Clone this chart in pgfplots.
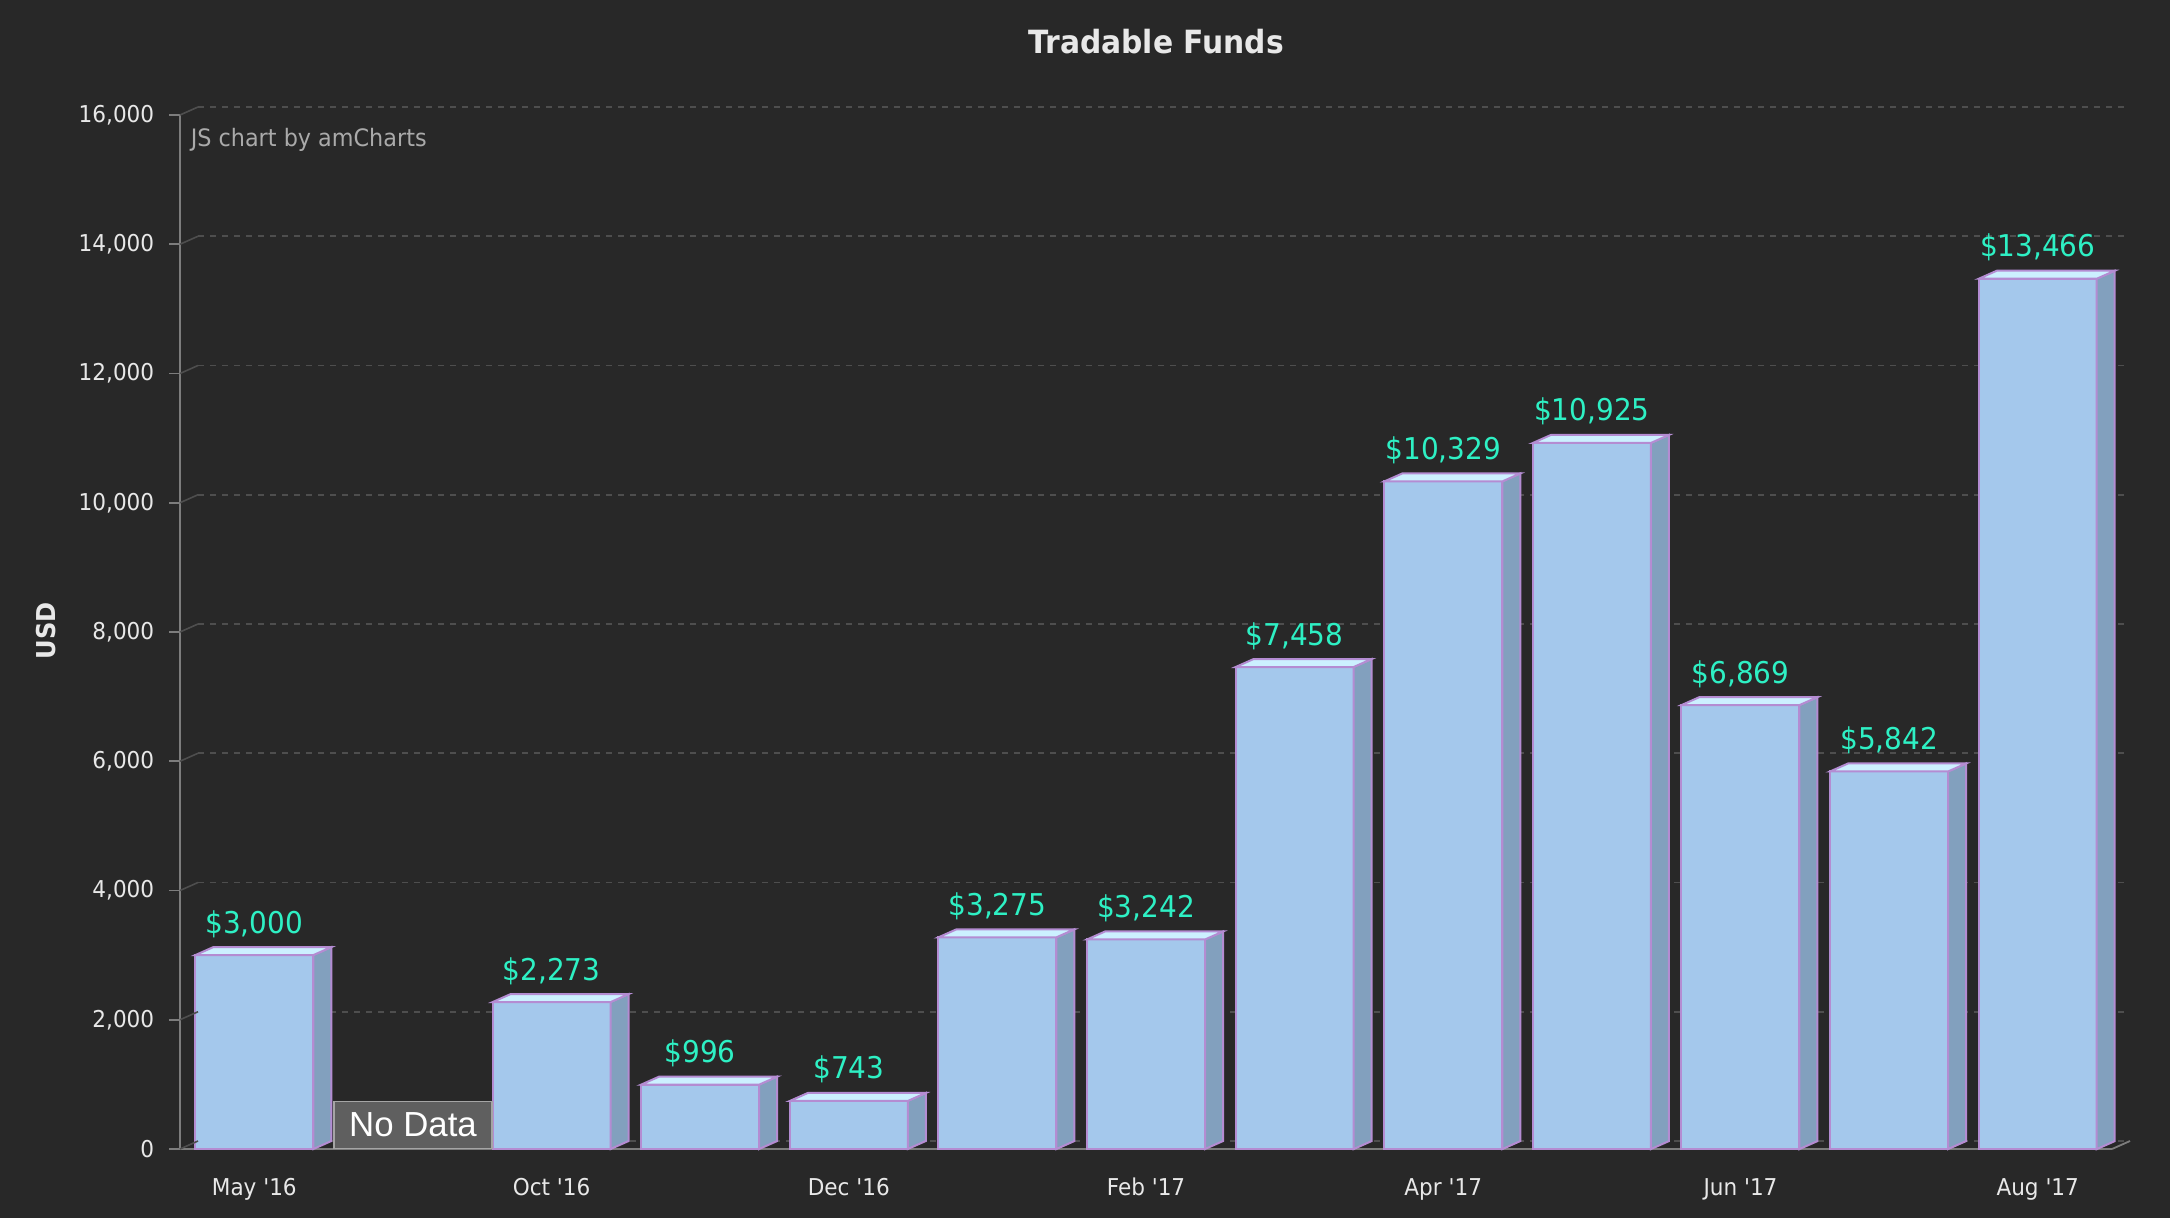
\documentclass[border=0pt]{standalone}
\usepackage{fontspec}
\setmainfont{DejaVu Sans}[FakeStretch=0.93,Ligatures=TeXOff]
\newfontfamily\ndfont{Liberation Sans}
\usepackage{pgfplots}
\usepackage{pgfplotstable}
\pgfplotsset{compat=1.18}

\definecolor{bg}{RGB}{40,40,40}
\definecolor{barfront}{RGB}{164,200,236}
\definecolor{barside}{RGB}{130,160,190}
\definecolor{bartop}{RGB}{204,240,255}
\definecolor{barline}{RGB}{180,140,210}
\definecolor{labelgreen}{RGB}{46,240,196}
\definecolor{ticktext}{RGB}{232,232,232}
\definecolor{axisgray}{RGB}{125,125,125}
\definecolor{gridgray}{RGB}{78,78,78}
\definecolor{wmgray}{RGB}{170,170,170}
\definecolor{ndfill}{RGB}{95,95,95}
\definecolor{ndline}{RGB}{165,165,165}

\pgfplotstableread{
x y lbl
0 3000 \$3,000
2 2273 \$2,273
3 996 \$996
4 743 \$743
5 3275 \$3,275
6 3242 \$3,242
7 7458 \$7,458
8 10329 \$10,329
9 10925 \$10,925
10 6869 \$6,869
11 5842 \$5,842
12 13466 \$13,466
}\datatable

% 3D top and side faces of a bar, drawn at the top centre of the front face
\pgfdeclareplotmark{bar3d}{%
  \pgfkeys{/pgf/fpu=false}%
  \pgfmathsetmacro\hb{-\ry*0.01615625}%
  \pgfmathsetmacro\hh{2-\ry*0.01615625}%
  \pgfpathmoveto{\pgfqpoint{14.75pt}{0pt}}%
  \pgfpathlineto{\pgfqpoint{19.25pt}{2pt}}%
  \pgfpathlineto{\pgfpoint{19.25pt}{\hh pt}}%
  \pgfpathlineto{\pgfpoint{14.75pt}{\hb pt}}%
  \pgfpathclose
  \pgfsetfillcolor{barside}%
  \pgfusepath{fill,stroke}%
  \pgfpathmoveto{\pgfqpoint{-14.75pt}{0pt}}%
  \pgfpathlineto{\pgfqpoint{14.75pt}{0pt}}%
  \pgfpathlineto{\pgfqpoint{19.25pt}{2pt}}%
  \pgfpathlineto{\pgfqpoint{-10.25pt}{2pt}}%
  \pgfpathclose
  \pgfsetfillcolor{bartop}%
  \pgfusepath{fill,stroke}%
}

\begin{document}
\begin{tikzpicture}
\fill[bg] (0,0) rectangle (542.5pt,304.5pt);
\begin{axis}[
  at={(45pt,17.25pt)}, anchor=south west,
  scale only axis, width=483pt, height=258.5pt,
  xmin=-0.5, xmax=12.5, ymin=0, ymax=16000,
  clip=false,
  axis x line*=bottom, axis y line*=left,
  axis line style={draw=axisgray, line width=0.45pt},
  xtick={0,2,...,12},
  xticklabels={May '16,Oct '16,Dec '16,Feb '17,Apr '17,Jun '17,Aug '17},
  ytick={0,2000,4000,6000,8000,10000,12000,14000,16000},
  scaled y ticks=false,
  tick align=outside,
  xtick style={draw=none},
  ytick style={draw=axisgray, line width=0.45pt},
  major tick length=2.75pt,
  ticklabel style={font=\fontsize{5.8}{7}\selectfont, text=ticktext, inner sep=0pt},
  yticklabel style={anchor=east, xshift=-3.5pt},
  xticklabel style={anchor=base, yshift=-8.75pt},
  /pgf/number format/1000 sep={,},
  /pgf/number format/assume math mode=true,
  ymajorgrids,
  major grid style={draw=gridgray, dash pattern=on 1.5pt off 1.5pt, line width=0.4pt, xshift=4.5pt, yshift=2pt},
  ylabel={USD},
  ylabel style={at={(axis description cs:-0.0696,0.501)}, anchor=center, font=\bfseries\fontsize{6.5}{8}\selectfont, text=ticktext},
]
\addplot[
  ybar, bar width=29.5pt, fill=barfront, draw=barline, line width=0.5pt,
  mark=bar3d, visualization depends on={rawy \as \ry},
  point meta=explicit symbolic,
  nodes near coords,
  every node near coord/.append style={anchor=base, yshift=5.5pt, inner sep=0pt,
    font=\fontsize{7.5}{9}\selectfont, text=labelgreen},
] table[x=x, y=y, meta=lbl] {\datatable};
% slanted stubs joining the front axis to the back grid
\pgfplotsinvokeforeach{0,2000,4000,6000,8000,10000,12000,14000,16000}{
  \draw[gridgray, line width=0.4pt] (axis cs:-0.5,#1) -- ++(4.5pt,2pt);
}
\draw[axisgray, line width=0.45pt] (axis cs:12.5,0) -- ++(4.5pt,2pt);
\node[fill=ndfill, draw=ndline, line width=0.35pt, minimum width=39.5pt, minimum height=11.75pt,
  inner sep=0pt, anchor=south, text=white, font=\ndfont\fontsize{8.7}{10}\selectfont]
  at (axis cs:1.068,0) {No Data};
\end{axis}
\node[anchor=base west, inner sep=0pt, text=wmgray, font=\fontsize{6}{7}\selectfont]
  at (47.5pt,267.75pt) {JS chart by amCharts};
\node[anchor=base, inner sep=0pt, text=ticktext, font=\bfseries\fontsize{8}{10}\selectfont]
  at (289pt,291pt) {Tradable Funds};
\pgfresetboundingbox
\useasboundingbox (0,0) rectangle (542.5pt,304.5pt);
\end{tikzpicture}
\end{document}
